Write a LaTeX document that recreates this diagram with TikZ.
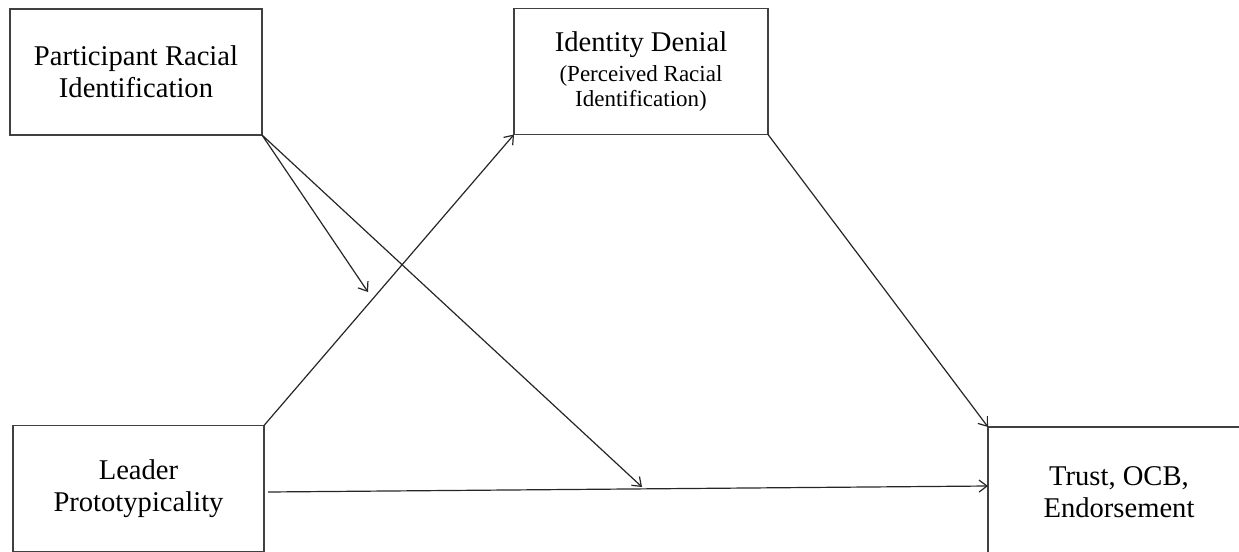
\documentclass[tikz,border=0pt]{standalone}
\usepackage{fontspec}
\setmainfont{Liberation Serif}
\usetikzlibrary{arrows.meta}
\newcommand{\subfont}{\fontsize{11.5}{12.5}\selectfont}

\begin{document}
\begin{tikzpicture}[x=0.5pt,y=-0.5pt,>={Straight Barb[length=4pt,width=6pt]},
  box/.style={draw=black!75,line width=0.7pt,outer sep=0pt,align=center,minimum width=126pt,minimum height=63pt,font=\fontsize{14.3}{16}\selectfont},
  link/.style={->,line width=0.6pt,black!85}]
\useasboundingbox (0,0) rectangle (1239,552);
\clip (0,0) rectangle (1239,552);
\node[box] (PRI) at (136,72) {Participant Racial\\Identification};
\node[box,minimum width=127pt] (ID) at (641,71.5) {Identity Denial\\[-1pt]\subfont(Perceived Racial\\[-3.5pt]\subfont Identification)};
\node[box,minimum width=125.5pt] (LP) at (138.5,488.5) {Leader\\Prototypicality};
\node[box,minimum width=131pt,minimum height=65pt] (TR) at (1119,492) {Trust, OCB,\\Endorsement};
\coordinate (m1) at (368,292);\coordinate (m2) at (642,487);
\draw[link] (PRI.south east)--(m1);
\draw[link] (PRI.south east)--(m2);
\draw[link] (LP.north east)--(ID.south west);
\draw[link] (ID.south east)--(TR.north west);
\draw[link] ([xshift=2pt,yshift=-1.75pt]LP.east)--([yshift=3pt]TR.west);
\end{tikzpicture}
\end{document}
